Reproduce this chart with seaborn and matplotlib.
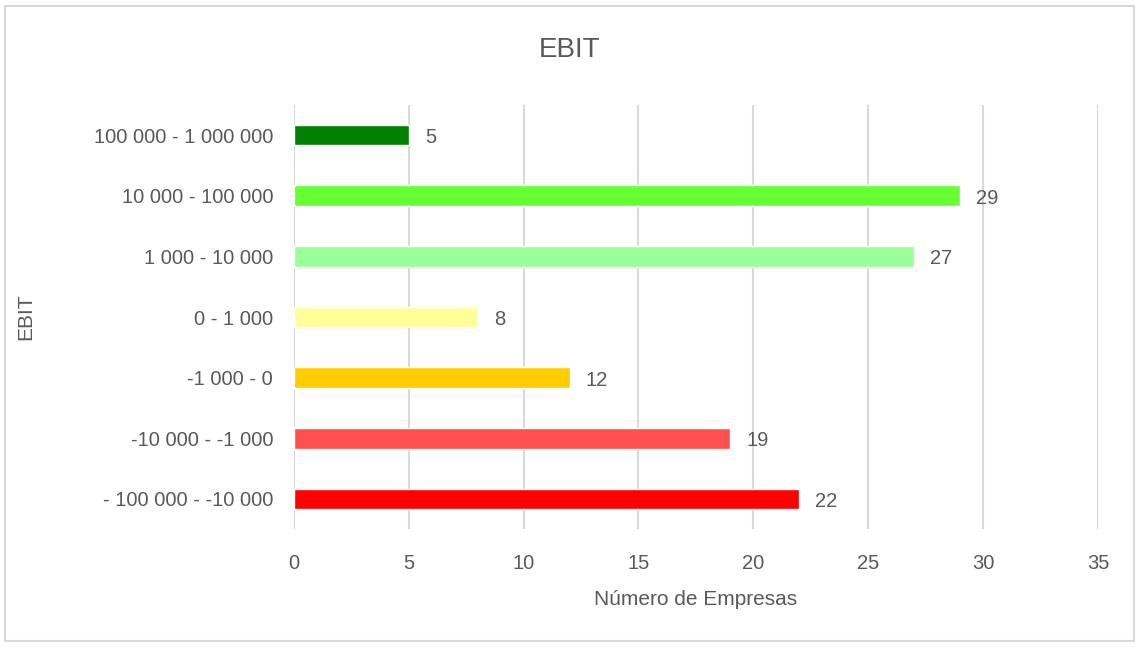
import matplotlib
matplotlib.use("Agg")
import matplotlib.pyplot as plt
import seaborn as sns
import pandas as pd
from matplotlib.patches import Rectangle

# data, top to bottom as in the chart
categorias = ["100 000 - 1 000 000", "10 000 - 100 000", "1 000 - 10 000", "0 - 1 000",
              "-1 000 - 0", "-10 000 - -1 000", "- 100 000 - -10 000"]
empresas = [5, 29, 27, 8, 12, 19, 22]
cores = ["#008000", "#66FF33", "#99FF99", "#FFFF99", "#FFCC00", "#FF5050", "#FF0000"]
xticks = [0, 5, 10, 15, 20, 25, 30, 35]

df = pd.DataFrame({"EBIT": categorias, "n": empresas})

sns.set_style("white")
plt.rcParams["font.family"] = ["Liberation Sans", "DejaVu Sans"]
grey = "#595959"

fig = plt.figure(figsize=(11.39, 6.47), dpi=100)
ax = fig.add_axes([0.258, 0.182, 0.706, 0.656])

sns.barplot(data=df, y="EBIT", x="n", hue="EBIT", palette=cores, order=categorias,
            hue_order=categorias, legend=False, width=0.34, saturation=1, ax=ax, orient="h")

ax.set_xlim(0, 35)
ax.set_ylim(len(categorias) - 0.5, -0.5)
ax.set_xticks(xticks)
ax.set_xticklabels([str(t) for t in xticks])
ax.grid(axis="x", color="#d9d9d9", linewidth=1.5)
ax.set_axisbelow(True)
for s in ax.spines.values():
    s.set_visible(False)
ax.tick_params(axis="both", length=0, colors=grey, labelsize=14.5)
ax.tick_params(axis="x", pad=18)
ax.tick_params(axis="y", pad=15)

for i, v in enumerate(empresas):
    ax.text(v + 0.7, i + 0.04, str(v), va="center", ha="left", fontsize=14.5, color=grey)

ax.set_xlabel("Número de Empresas", fontsize=15, color=grey, labelpad=12)
ax.set_ylabel("EBIT", fontsize=15, color=grey)
ax.yaxis.set_label_coords(-0.321, 0.5)
fig.text(0.5, 0.922, "EBIT", ha="center", va="center", fontsize=20, color=grey)

fig.patches.append(Rectangle((0.004, 0.01), 0.992, 0.98, transform=fig.transFigure,
                             fill=False, edgecolor="#d9d9d9", linewidth=1.5))

fig.savefig("out.png", dpi=100)
